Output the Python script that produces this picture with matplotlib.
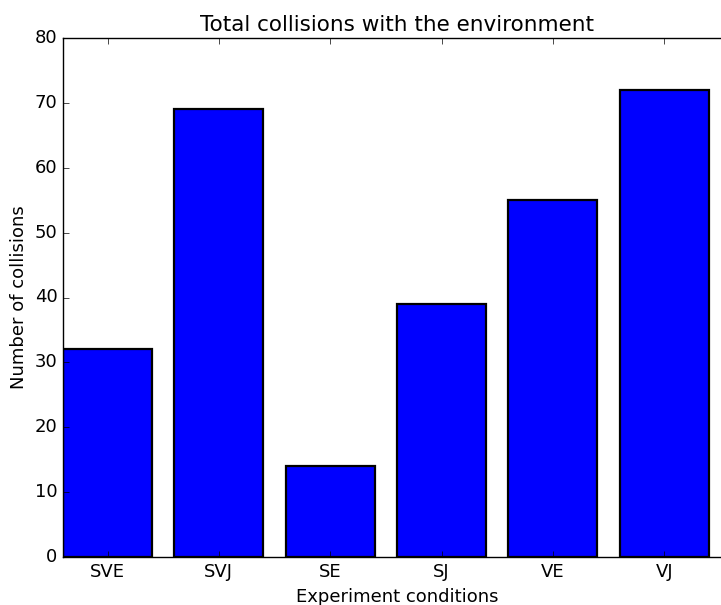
import matplotlib
matplotlib.use("Agg")
import matplotlib.pyplot as plt
import numpy as np

plt.style.use("classic")

conditions = ["SVE", "SVJ", "SE", "SJ", "VE", "VJ"]
collisions = [32, 69, 14, 39, 55, 72]

fig = plt.figure(figsize=(7.21, 6.05), dpi=100)
# axes runs past the right edge of the figure, as in the original crop
ax = fig.add_axes([63 / 721, 48 / 605, 668 / 721, 519 / 605])

x = np.arange(len(conditions))
ax.bar(x, collisions, width=0.8, align="edge", color="blue",
       edgecolor="black", linewidth=1.6)
ax.set_xticks(x + 0.4)
ax.set_xticklabels(conditions)
ax.set_xlim(0, 6)
ax.set_ylim(0, 80)
ax.spines["right"].set_visible(False)

ax.set_title("Total collisions with the environment", fontsize=15.5)
ax.set_xlabel("Experiment conditions", fontsize=13)
ax.set_ylabel("Number of collisions", fontsize=13)
ax.tick_params(labelsize=13)

fig.savefig("out.png", dpi=100)
